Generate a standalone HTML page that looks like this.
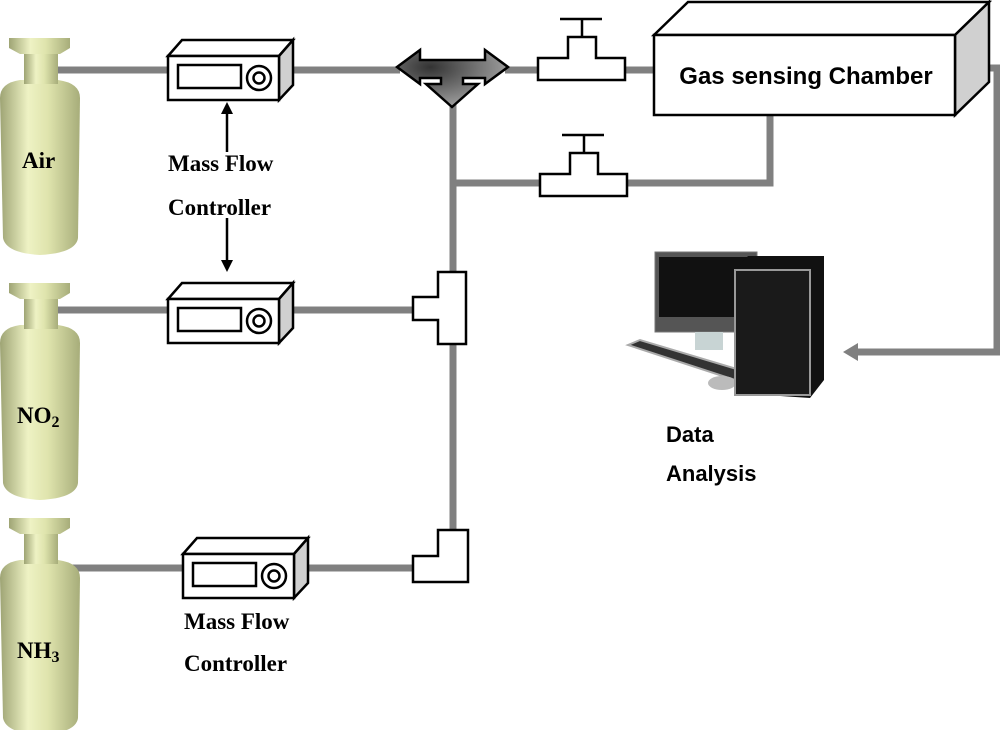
<!DOCTYPE html>
<html><head><style>body{margin:0;background:#fff}svg{display:block}</style></head><body>
<svg width="1000" height="730" viewBox="0 0 1000 730" xmlns="http://www.w3.org/2000/svg">
<defs>
<linearGradient id="cyl" x1="0" x2="1" y1="0" y2="0">
<stop offset="0" stop-color="#9ea474"/><stop offset="0.35" stop-color="#eef2c4"/><stop offset="0.6" stop-color="#dfe4ad"/><stop offset="1" stop-color="#a7ad7a"/></linearGradient>
<radialGradient id="tee" cx="0.3" cy="0.3" r="0.9"><stop offset="0" stop-color="#333"/><stop offset="1" stop-color="#bbb"/></radialGradient>
<g id="cylinder">
<path d="M0,60 Q0,45 20,42 L58,42 Q80,45 80,60 L78,200 Q76,215 40,217 Q6,215 3,200 Z" fill="url(#cyl)"/>
<rect x="24" y="12" width="34" height="34" fill="url(#cyl)"/>
<path d="M9,0 L70,0 L70,10 L60,16 L20,16 L9,10 Z" fill="url(#cyl)"/>
</g>
<g id="mfc" fill="#fff" stroke="#000" stroke-width="2.5">
<path d="M0,16 L14,0 L125,0 L111,16 Z"/>
<path d="M111,16 L125,0 L125,45 L111,60 Z" fill="#d0d0d0"/>
<rect x="0" y="16" width="111" height="44"/>
<rect x="10" y="25" width="63" height="23"/>
<circle cx="91" cy="38" r="12"/><circle cx="91" cy="38" r="5.5"/>
</g>
<g id="valve" fill="#fff" stroke="#000" stroke-width="2.5">
<line x1="22" y1="0" x2="64" y2="0"/><line x1="44" y1="0" x2="44" y2="18"/>
<path d="M0,61 L0,39 L30,39 L30,18 L58,18 L58,39 L87,39 L87,61 Z"/>
</g>
</defs>
<g stroke="#808080" stroke-width="7" fill="none">
<line x1="55" y1="70" x2="400" y2="70"/>
<line x1="505" y1="70" x2="660" y2="70"/>
<line x1="453" y1="100" x2="453" y2="540"/>
<polyline points="453,183 770,183 770,112"/>
<line x1="55" y1="310" x2="415" y2="310"/>
<line x1="60" y1="568" x2="415" y2="568"/>
<polyline points="989,68 997,68 997,352 855,352"/>
</g>
<polygon points="843,352 858,343 858,361" fill="#808080"/>
<use href="#cylinder" x="0" y="38"/>
<use href="#cylinder" x="0" y="283"/>
<use href="#cylinder" x="0" y="518"/>
<g font-family="Liberation Serif, serif" font-weight="bold" font-size="23" fill="#000">
<text x="22" y="168">Air</text>
<text x="17" y="423">NO<tspan font-size="16" dy="4">2</tspan></text>
<text x="17" y="658">NH<tspan font-size="16" dy="4">3</tspan></text>
<text x="168" y="171">Mass Flow</text>
<text x="168" y="215">Controller</text>
<text x="184" y="629">Mass Flow</text>
<text x="184" y="671">Controller</text>
</g>
<use href="#mfc" x="168" y="40"/>
<use href="#mfc" x="168" y="283"/>
<use href="#mfc" x="183" y="538"/>
<g stroke="#000" stroke-width="2.5">
<line x1="227" y1="112" x2="227" y2="152"/>
<line x1="227" y1="218" x2="227" y2="262"/>
</g>
<polygon points="227,102 221,114 233,114"/>
<polygon points="227,272 221,260 233,260"/>
<path d="M397,67 L420,50 L420,60 L485,60 L485,50 L508,67 L485,84 L485,78 L463,78 L463,84 L478,84 L452,107 L426,84 L441,84 L441,78 L420,78 L420,84 Z" fill="url(#tee)" stroke="#000" stroke-width="2.5"/>
<use href="#valve" x="538" y="19"/>
<use href="#valve" x="540" y="135"/>
<g fill="#fff" stroke="#000" stroke-width="2.5">
<path d="M654,35 L688,2 L989,2 L955,35 Z"/>
<path d="M955,35 L989,2 L989,82 L955,115 Z" fill="#d0d0d0"/>
<rect x="654" y="35" width="301" height="80"/>
<path d="M438,272 L466,272 L466,344 L438,344 L438,320 L413,320 L413,297 L438,297 Z"/>
<path d="M438,530 L468,530 L468,582 L413,582 L413,556 L438,556 Z"/>
</g>
<text x="806" y="84" text-anchor="middle" font-family="Liberation Sans, sans-serif" font-weight="bold" font-size="24">Gas sensing Chamber</text>
<g>
<rect x="655" y="252" width="102" height="80" fill="#555" stroke="#777"/>
<rect x="659" y="257" width="94" height="60" fill="#111"/>
<rect x="695" y="332" width="28" height="18" fill="#c8d4d4"/>
<polygon points="628,345 640,340 740,370 735,380" fill="#333" stroke="#aaa" stroke-width="2"/>
<ellipse cx="722" cy="383" rx="14" ry="7" fill="#bbb"/>
<polygon points="735,270 748,256 824,256 824,380 810,398 735,393" fill="#111"/>
<rect x="735" y="270" width="75" height="125" fill="#1a1a1a" stroke="#999" stroke-width="2"/>
</g>
<g font-family="Liberation Sans, sans-serif" font-weight="bold" font-size="22">
<text x="666" y="442">Data</text>
<text x="666" y="481">Analysis</text>
</g>
</svg>
</body></html>
